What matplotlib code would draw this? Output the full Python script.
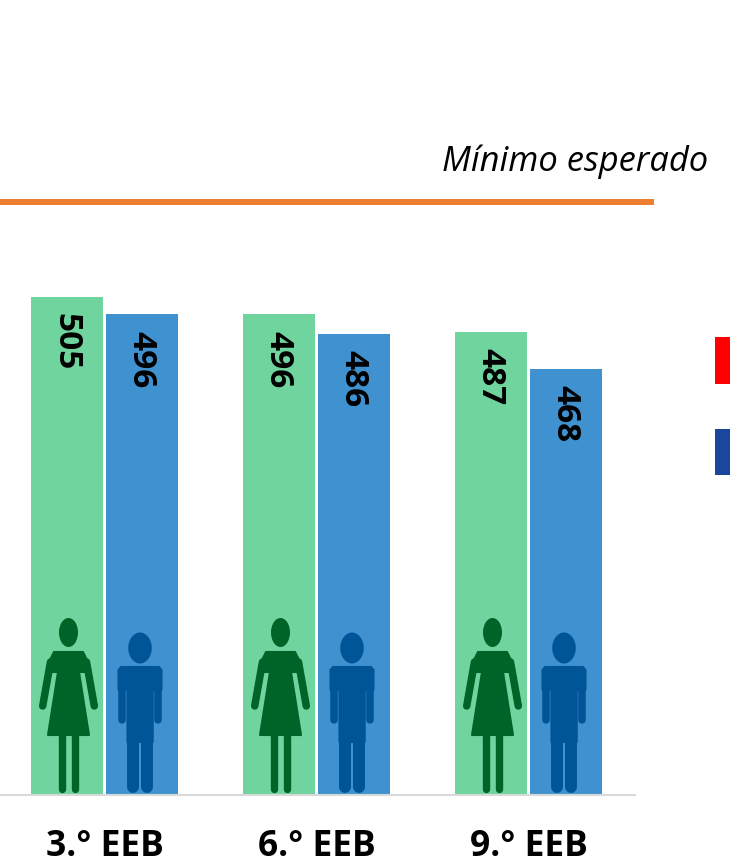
import matplotlib
matplotlib.use("Agg")
import matplotlib.pyplot as plt
from matplotlib.lines import Line2D
from matplotlib.patches import Ellipse, Polygon, Rectangle

categories = ["3.° EEB", "6.° EEB", "9.° EEB"]
girls = [505, 496, 487]
boys = [496, 486, 468]
threshold_label = "Mínimo esperado"

W, H = 730, 866
FONT = ["Open Sans", "DejaVu Sans"]
fig = plt.figure(figsize=(W / 100, H / 100), dpi=100, facecolor="white")

# main chart axes
left, right, base, top = -1.5, 634.5, 794.5, 200
ax = fig.add_axes([left / W, 1 - base / H, (right - left) / W, (base - top) / H])
ax.set_xlim(-0.5, 2.5)
ax.set_ylim(249.7, 249.7 + (base - top) / 1.95)
ax.patch.set_alpha(0)
for s in ["top", "left", "right"]:
    ax.spines[s].set_visible(False)
ax.spines["bottom"].set_color("#D9D9D9")
ax.spines["bottom"].set_linewidth(1.5)
ax.set_yticks([])
ax.set_xticks(range(3))
ax.set_xticklabels(categories, fontsize=25.5, fontweight="bold", color="black", family=FONT)
ax.tick_params(axis="x", length=0, pad=24.5)

bw, off = 0.3396, 0.1769
for i, (g, b) in enumerate(zip(girls, boys)):
    ax.bar(i - off, g, bw, color="#70D49F", zorder=2)
    ax.bar(i + off, b, bw, color="#4091D0", zorder=2)
    for x, v in [(i - off, g), (i + off, b)]:
        ax.annotate(str(v), (x, v), xytext=(-0.6, -11.8), textcoords="offset points",
                    rotation=270, ha="center", va="top", fontsize=24,
                    fontweight="bold", color="black", family=FONT, zorder=5)

# overlay in pixel coordinates for rule, legend keys and figures
ov = fig.add_axes([0, 0, 1, 1])
ov.set_xlim(0, W)
ov.set_ylim(H, 0)
ov.axis("off")
ov.patch.set_alpha(0)

ov.add_line(Line2D([0, 654], [202, 202], color="#ED7D31", lw=4.3, solid_capstyle="butt"))
ov.text(708, 162, threshold_label, ha="right", va="center", style="italic",
        fontsize=24.8, color="black", family=FONT)
ov.add_patch(Rectangle((715, 337), 20, 47, color="#FF0000", lw=0))
ov.add_patch(Rectangle((715, 429), 20, 46, color="#1A479B", lw=0))


def woman(x0):
    c = "#006428"
    ov.add_patch(Ellipse((x0 + 37.5, 632.5), 19, 29, color=c, lw=0, zorder=6))
    ov.add_patch(Polygon([(x0 + 23, 652), (x0 + 52, 652), (x0 + 58, 664), (x0 + 55, 672),
                          (x0 + 48, 672), (x0 + 58, 735), (x0 + 17, 735), (x0 + 27, 672),
                          (x0 + 20, 672), (x0 + 17, 664)],
                         facecolor=c, edgecolor=c, lw=1.5, joinstyle="round", zorder=6))
    for a, b in [((x0 + 19.5, 662), (x0 + 11.7, 706)), ((x0 + 55.5, 662), (x0 + 63.3, 706))]:
        ov.add_line(Line2D([a[0], b[0]], [a[1], b[1]], color=c, lw=5.4,
                           solid_capstyle="round", zorder=6))
    for lx in (x0 + 31, x0 + 43.7):
        ov.add_line(Line2D([lx, lx], [734, 789], color=c, lw=5.3,
                           solid_capstyle="round", zorder=6))


def man(x0):
    c = "#005596"
    ov.add_patch(Ellipse((x0 + 34, 648), 23.5, 31, color=c, lw=0, zorder=6))
    ov.add_patch(Polygon([(x0 + 15, 667), (x0 + 53, 667), (x0 + 55.5, 670), (x0 + 55.5, 690),
                          (x0 + 46.7, 690), (x0 + 46.7, 742), (x0 + 21.5, 742), (x0 + 21.5, 690),
                          (x0 + 12.5, 690), (x0 + 12.5, 670)],
                         facecolor=c, edgecolor=c, lw=1.5, joinstyle="round", zorder=6))
    for lx in (x0 + 15.7, x0 + 52.3):
        ov.add_line(Line2D([lx, lx], [672, 720], color=c, lw=5.4,
                           solid_capstyle="round", zorder=6))
    for lx in (x0 + 27.3, x0 + 40.7):
        ov.add_line(Line2D([lx, lx], [735, 786.5], color=c, lw=8.6,
                           solid_capstyle="round", zorder=6))


for start in (31, 243, 455):
    woman(start)
    man(start + 75)

fig.savefig("out.png", dpi=100)
